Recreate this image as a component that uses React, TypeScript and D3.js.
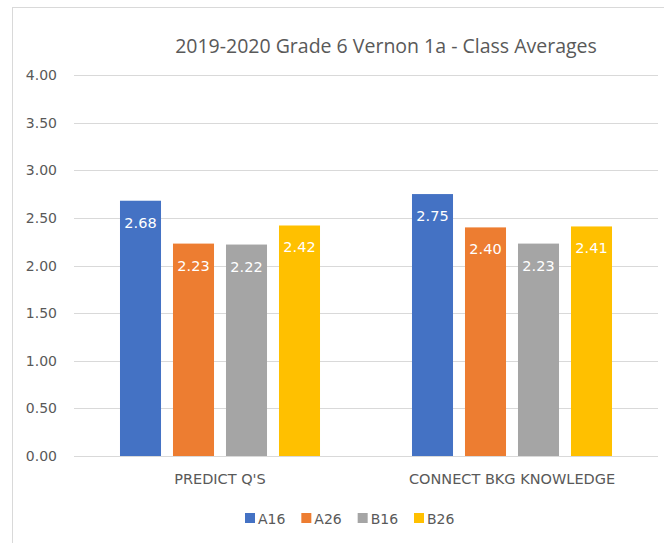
import React from 'react';
import * as d3 from 'd3';

const categories = ["PREDICT Q'S", 'CONNECT BKG KNOWLEDGE'];
const seriesNames = ['A16', 'A26', 'B16', 'B26'];
const seriesColors = ['#4472C4', '#ED7D31', '#A5A5A5', '#FFC000'];
const values = [
  [2.68, 2.23, 2.22, 2.42],
  [2.75, 2.40, 2.23, 2.41],
];
const yTicks = [0, 0.5, 1, 1.5, 2, 2.5, 3, 3.5, 4];

const W = 664;
const H = 543;
const titleFont = "'Open Sans', 'Liberation Sans', sans-serif";
const font = "'DejaVu Sans', 'Liberation Sans', sans-serif";
const textGray = '#595959';

const App: React.FC = () => {
  const plot = { left: 74, right: 658, top: 75, bottom: 456 };

  const y = d3.scaleLinear().domain([0, 4]).range([plot.bottom, plot.top]);
  const x0 = d3.scaleBand<string>()
    .domain(categories)
    .range([plot.left, plot.right])
    .paddingInner(0.315)
    .paddingOuter(0.1575);
  const x1 = d3.scaleBand<string>()
    .domain(seriesNames)
    .range([0, x0.bandwidth()])
    .paddingInner(0.226);

  // legend keys sit at even steps under the plot
  const legendX = d3.scalePoint<string>().domain(seriesNames).range([245, 414]);

  return (
    <svg width={W} height={H} style={{ position: 'absolute', left: 0, top: 0, background: '#fff' }}>
      <rect x={12.5} y={7.5} width={W + 20} height={H + 20} fill="#fff" stroke="#D9D9D9" />
      <text x={386} y={53} textAnchor="middle" fontFamily={titleFont} fontSize={19.5} fill={textGray}>
        2019-2020 Grade 6 Vernon 1a - Class Averages
      </text>

      {yTicks.map((t) => (
        <g key={t}>
          <line x1={plot.left} x2={plot.right} y1={Math.round(y(t)) + 0.5} y2={Math.round(y(t)) + 0.5} stroke="#D9D9D9" />
          <text x={57} y={y(t) + 5} textAnchor="end" fontFamily={font} fontSize={14} fill={textGray}>
            {t.toFixed(2)}
          </text>
        </g>
      ))}

      {categories.map((c, ci) => (
        <g key={c} transform={`translate(${x0(c)},0)`}>
          {seriesNames.map((s, si) => {
            const v = values[ci][si];
            const bx = x1(s)!;
            return (
              <g key={s}>
                <rect x={bx} y={y(v)} width={x1.bandwidth()} height={y(0) - y(v)} fill={seriesColors[si]} />
                <text x={bx + x1.bandwidth() / 2} y={y(v) + 27} textAnchor="middle" fontFamily={font} fontSize={14.5} fill="#fff">
                  {v.toFixed(2)}
                </text>
              </g>
            );
          })}
          <text x={x0.bandwidth() / 2} y={484} textAnchor="middle" fontFamily={font} fontSize={14.5} fill={textGray}>
            {c}
          </text>
        </g>
      ))}

      {seriesNames.map((s, si) => (
        <g key={s} transform={`translate(${legendX(s)},0)`}>
          <rect x={0} y={513} width={10} height={10} fill={seriesColors[si]} />
          <text x={13} y={524} fontFamily={font} fontSize={14} fill={textGray}>
            {s}
          </text>
        </g>
      ))}
    </svg>
  );
};

export default App;
